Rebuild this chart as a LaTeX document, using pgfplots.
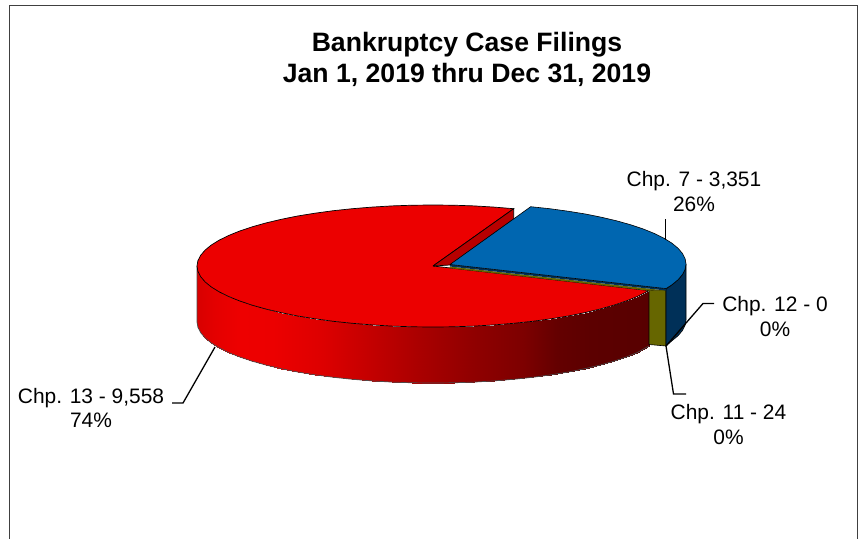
\documentclass[border=0pt]{standalone}
\usepackage{pgfplots}
\pgfplotsset{compat=1.18}
\usepackage{fontspec}
\setmainfont{Liberation Sans}
\definecolor{pieRed}{RGB}{236,0,0}
\definecolor{wallRed}{RGB}{184,0,0}
\definecolor{pieBlue}{RGB}{0,102,176}
\definecolor{sideBlue}{RGB}{0,48,88}
\definecolor{pieOlive}{RGB}{102,102,0}
\newcommand{\lbl}{\fontsize{21}{25}\selectfont}
\newcommand{\ttl}{\fontsize{26.7}{31}\selectfont\bfseries}
\begin{document}
\begin{tikzpicture}
  \begin{axis}[
    scale only axis, width=859bp, height=539bp,
    xmin=0, xmax=859, ymin=0, ymax=539,
    y dir=reverse, hide axis,
    colormap={redside}{rgb255(197)=(216,0,0); rgb255(215)=(228,0,0); rgb255(240)=(238,0,0);
      rgb255(273)=(236,0,0); rgb255(323)=(221,0,0); rgb255(377)=(192,0,0); rgb255(423)=(168,0,0);
      rgb255(473)=(144,0,0); rgb255(523)=(125,0,0); rgb255(557)=(100,0,0); rgb255(590)=(92,0,0);
      rgb255(649)=(88,0,0)},
  ]
  % frame
  \addplot[black!75, line width=1.4bp] coordinates {(9.5,545) (9.5,5.5) (857.5,5.5) (857.5,545)};

  % red side, upper row then lower row
  \addplot[surf, shader=interp, mesh/rows=2, point meta=x, point meta min=197, point meta max=649] coordinates {
    (197,266) (197.9,271.3) (200.6,276.6) (205,281.8) (211.2,286.9) (219.1,291.8) (228.6,296.5)
    (239.7,301) (252.2,305.2) (266.1,309.1) (281.3,312.7) (297.6,316) (315,318.8) (333.3,321.3)
    (352.3,323.3) (371.9,324.9) (392,326.1) (412.4,326.8) (433,327) (453.6,326.8) (474,326.1)
    (494.1,324.9) (513.7,323.3) (532.7,321.3) (551,318.8) (568.4,316) (584.7,312.7) (599.9,309.1)
    (613.8,305.2) (626.3,301) (637.4,296.5) (649,290.6)

    (197,322) (197.9,327.3) (200.6,332.6) (205,337.8) (211.2,342.9) (219.1,347.8) (228.6,352.5)
    (239.7,357) (252.2,361.2) (266.1,365.1) (281.3,368.7) (297.6,372) (315,374.8) (333.3,377.3)
    (352.3,379.3) (371.9,380.9) (392,382.1) (412.4,382.8) (433,383) (453.6,382.8) (474,382.1)
    (494.1,380.9) (513.7,379.3) (532.7,377.3) (551,374.8) (568.4,372) (584.7,368.7) (599.9,365.1)
    (613.8,361.2) (626.3,357) (637.4,352.5) (649,346)
  };
  \addplot[black!70, line width=0.7bp] coordinates {
    (197,266) (197,322) (197.9,327.3) (200.6,332.6) (205,337.8) (211.2,342.9) (219.1,347.8) (228.6,352.5)
    (239.7,357) (252.2,361.2) (266.1,365.1) (281.3,368.7) (297.6,372) (315,374.8) (333.3,377.3)
    (352.3,379.3) (371.9,380.9) (392,382.1) (412.4,382.8) (433,383) (453.6,382.8) (474,382.1)
    (494.1,380.9) (513.7,379.3) (532.7,377.3) (551,374.8) (568.4,372) (584.7,368.7) (599.9,365.1)
    (613.8,361.2) (626.3,357) (637.4,352.5) (649,346)
  };

  % red top
  \addplot[fill=pieRed, draw=black, line width=0.7bp] coordinates {
    (433,266) (649,290.6) (637.4,296.5) (626.3,301) (613.8,305.2) (599.9,309.1) (584.7,312.7)
    (568.4,316) (551,318.8) (532.7,321.3) (513.7,323.3) (494.1,324.9) (474,326.1) (453.6,326.8)
    (433,327) (412.4,326.8) (392,326.1) (371.9,324.9) (352.3,323.3) (333.3,321.3) (315,318.8)
    (297.6,316) (281.3,312.7) (266.1,309.1) (252.2,305.2) (239.7,301) (228.6,296.5) (219.1,291.8)
    (211.2,286.9) (205,281.8) (200.6,276.6) (197.9,271.3) (197,266) (197.9,260.7) (200.6,255.4)
    (205,250.2) (211.2,245.1) (219.1,240.2) (228.6,235.5) (239.7,231) (252.2,226.8) (266.1,222.9)
    (281.3,219.3) (297.6,216) (315,213.2) (333.3,210.7) (352.3,208.7) (371.9,207.1) (392,205.9)
    (412.4,205.2) (433,205) (453.6,205.2) (474,205.9) (494.1,207.1) (513.7,208.7) (433,266)
  };
  % red cut wall
  \addplot[fill=wallRed, draw=black, line width=0.7bp] coordinates {
    (433,266) (513.7,208.7) (513.7,219) (450,265) (433,266)
  };

  % olive side and the thin strips of the small slices
  \addplot[fill=pieOlive, draw=black, line width=0.6bp] coordinates {
    (649,290.6) (666,290) (666,346) (649,344.5) (649,290.6)
  };
  \addplot[fill=pieOlive, draw=none] coordinates {
    (450,266.5) (666,290.5) (649,290.6) (449,268) (450,266.5)
  };
  % blue side
  \addplot[fill=sideBlue, draw=black, line width=0.6bp] coordinates {
    (666,289) (671.8,284.9) (678,279.8) (682.4,274.6) (685.1,269.3) (686,264)
    (686,320) (685.1,325.3) (682.4,330.6) (678,335.8) (671.8,340.9) (666,346) (666,289)
  };
  \addplot[fill=sideBlue, draw=none] coordinates {
    (450,264.5) (666,288.6) (666,290.5) (450,266.5) (450,264.5)
  };
  % blue top
  \addplot[fill=pieBlue, draw=black, line width=0.6bp] coordinates {
    (450,264.5) (530.7,206.7) (549.7,208.7) (568,211.2) (585.4,214) (601.7,217.3) (616.9,220.9)
    (630.8,224.8) (643.3,229) (654.4,233.5) (663.9,238.2) (671.8,243.1) (678,248.2) (682.4,253.4)
    (685.1,258.7) (686,264) (685.1,269.3) (682.4,274.6) (678,279.8) (671.8,284.9) (666,288.6) (450,264.5)
  };

  % leader lines
  \addplot[black, line width=1.3bp] coordinates {(665.7,219) (665.7,240)};
  \addplot[black, line width=1.3bp] coordinates {(666,346) (703,303.5) (714,303.5)};
  \addplot[black, line width=1.3bp] coordinates {(666,346) (673.5,394) (686,394)};
  \addplot[black, line width=1.3bp] coordinates {(215,347) (183,403) (172,403)};

  % titles and labels
  \node[align=center, font=\ttl] at (axis cs:467,59.7) {Bankruptcy Case Filings\\Jan 1, 2019 thru Dec 31, 2019};
  \node[align=center, font=\lbl] at (axis cs:694,191.5) {Chp. 7 - 3,351\\26\%};
  \node[align=center, font=\lbl] at (axis cs:775,316.5) {Chp. 12 - 0\\0\%};
  \node[align=center, font=\lbl] at (axis cs:728.5,424.7) {Chp. 11 - 24\\0\%};
  \node[align=center, font=\lbl] at (axis cs:91,408) {Chp. 13 - 9,558\\74\%};
  \end{axis}
  \pgfresetboundingbox
  \path (0,0) rectangle (859bp,539bp);
\end{tikzpicture}
\end{document}
